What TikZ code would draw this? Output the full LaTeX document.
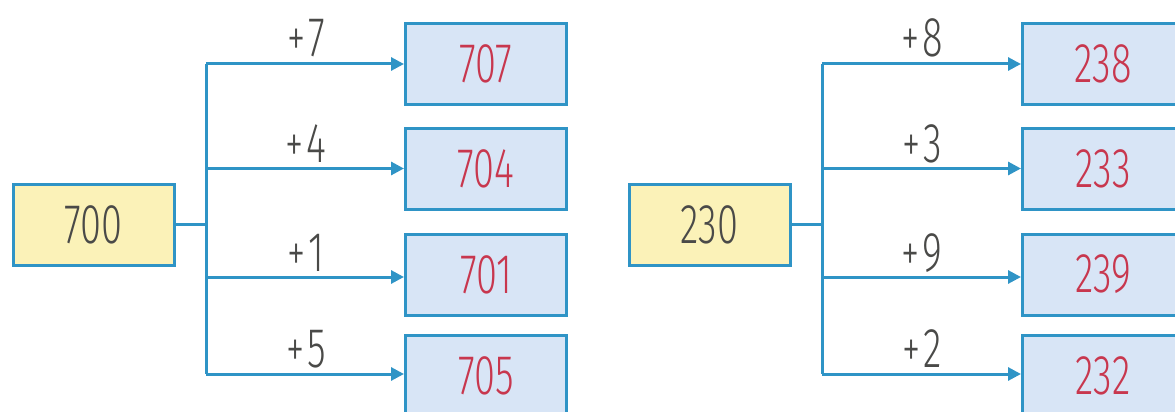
\documentclass[tikz,border=0pt]{standalone}
\usepackage{fontspec}
\usetikzlibrary{arrows.meta}
\newfontfamily\hand{Fira Sans Light}[FakeStretch=0.68]
\definecolor{lineblue}{HTML}{2F94C6}
\definecolor{srcfill}{HTML}{FBF2B8}
\definecolor{dstfill}{HTML}{D8E5F6}
\definecolor{redtxt}{HTML}{C8374E}
\definecolor{graytxt}{HTML}{4A4A48}
\tikzset{
  srcbox/.style={draw=lineblue, line width=3pt, fill=srcfill, minimum width=161pt, minimum height=81pt, inner sep=0pt, font=\hand\fontsize{56}{56}\selectfont, text=graytxt},
  dstbox/.style={draw=lineblue, line width=3pt, fill=dstfill, minimum width=161pt, minimum height=81pt, inner sep=0pt, font=\hand\fontsize{56}{56}\selectfont, text=redtxt},
  conn/.style={draw=lineblue, line width=3pt},
  arr/.style={conn, -{Triangle[length=13pt,width=13pt]}},
  oplabel/.style={anchor=base, font=\hand\fontsize{56}{56}\selectfont, text=graytxt, inner sep=0pt}
}
\newcommand{\opl}[1]{{\fontsize{54}{54}\selectfont +}\kern3pt#1}
\begin{document}
\begin{tikzpicture}[x=1pt,y=-1pt]
\useasboundingbox (0,0) rectangle (1175,412);
\clip (0,0) rectangle (1175,412);
% left group
\node[srcbox] (a) at (93.5,224.5) {700};
\node[dstbox] (a1) at (486,64) {707};
\node[dstbox] (a2) at (486,168.5) {704};
\node[dstbox] (a3) at (486,274.5) {701};
\node[dstbox] (a4) at (486,376) {705};
\coordinate (at1) at (206,64);
\coordinate (at4) at (206,374);
\coordinate (am) at (206,224.5);
\draw[conn] (a.east) -- (am);
\draw[conn] (at1) -- (at4);
\draw[arr] (at1) -- (a1.west);
\draw[arr] (206,168.5) -- (a2.west);
\draw[arr] (206,277) -- (a3.west |- 0,277);
\draw[arr] (at4) -- (a4.west |- at4);
\node[oplabel] (la1) at (306,57) {\opl{7}};
\node[oplabel] (la2) at (306,162) {\opl{4}};
\node[oplabel] (la3) at (306,271) {\opl{1}};
\node[oplabel] (la4) at (306,367) {\opl{5}};
% right group
\node[srcbox] (b) at (709.5,224.5) {230};
\node[dstbox] (b1) at (1103,64) {238};
\node[dstbox] (b2) at (1103,168.5) {233};
\node[dstbox] (b3) at (1103,274.5) {239};
\node[dstbox] (b4) at (1103,376) {232};
\coordinate (bt1) at (822,64);
\coordinate (bt4) at (822,374);
\coordinate (bm) at (822,224.5);
\draw[conn] (b.east) -- (bm);
\draw[conn] (bt1) -- (bt4);
\draw[arr] (bt1) -- (b1.west);
\draw[arr] (822,168.5) -- (b2.west);
\draw[arr] (822,277) -- (b3.west |- 0,277);
\draw[arr] (bt4) -- (b4.west |- bt4);
\node[oplabel] (lb1) at (922,57) {\opl{8}};
\node[oplabel] (lb2) at (922,162) {\opl{3}};
\node[oplabel] (lb3) at (922,271) {\opl{9}};
\node[oplabel] (lb4) at (922,367) {\opl{2}};
\end{tikzpicture}
\end{document}
